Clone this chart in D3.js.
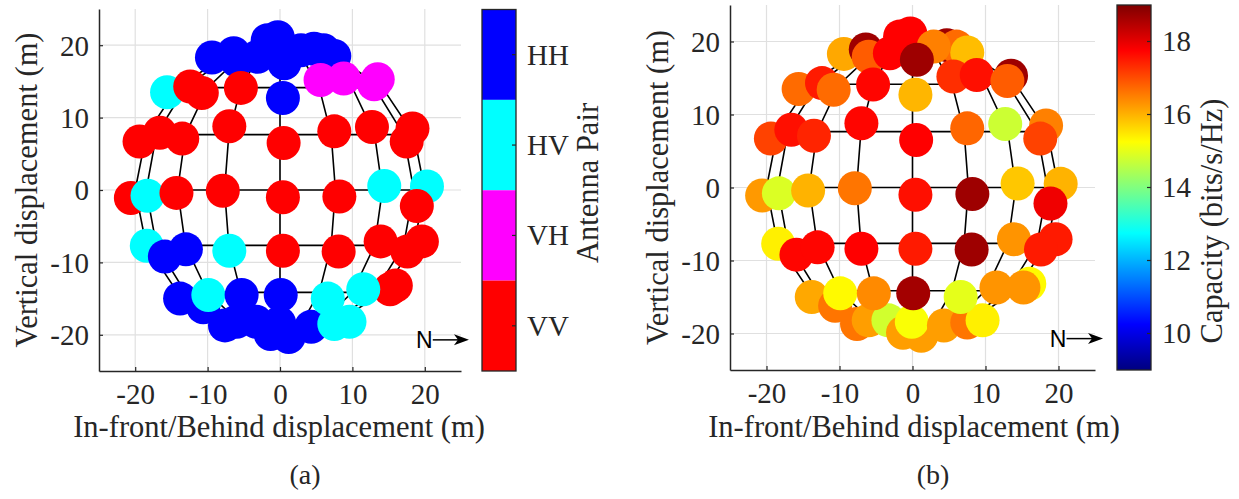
<!DOCTYPE html>
<html><head><meta charset="utf-8">
<script src="https://cdn.jsdelivr.net/npm/d3@7"></script>
<style>
body{margin:0;background:#fff}
svg{display:block}
.serif{font-family:"Liberation Serif","Times New Roman",Times,serif;fill:#262626}
</style>
</head><body>
<svg id="c" width="1239" height="499"></svg>
<script>
// ---------- data ----------
const pairCategories = ["HH", "HV", "VH", "VV"];
const pairColors = ["#0000ff", "#00ffff", "#ff00ff", "#ff0000"];
const xTicks = [-20, -10, 0, 10, 20];
const yTicks = [-20, -10, 0, 10, 20];
const capTicks = [10, 12, 14, 16, 18];
const capRange = [9, 19];
const axisRange = [-25, 25];

// wireframe of the measurement sphere (front hemisphere)
const sphereRadius = 20;
const latitudes = [-90, -67.5, -45, -22.5, 0, 22.5, 45, 67.5, 90];
const longitudes = [-90, -67.5, -45, -22.5, 0, 22.5, 45, 67.5, 90];

// measured positions (m), best antenna pair, capacity (bits/s/Hz)
const posX = [
  // top cluster
  -9.4, -6.4, -6.0, -3.1, -1.7, -0.3, 4.7, 6.0, 7.5, 2.9, 0.6,
  // ring +45
  -15.6, -12.4, -10.8, -5.4, 0.4, 13.5, 5.6, 8.8, 13.0,
  // ring +22.5
  -19.4, -16.6, -13.5, -7.0, 0.5, 7.5, 12.7, 18.3, 17.5,
  // ring 0
  -20.6, -18.3, -14.3, -7.9, 0.4, 8.2, 14.4, 20.3, 18.9,
  // ring -22.5
  -18.4, -15.9, -13.0, -7.0, 0.4, 8.1, 13.9, 19.6, 17.6,
  // bottom cluster
  -7.6, -6.0, -3.3, -1.3, 1.2, -0.1, 4.3, 7.5, 9.6,
  // ring -45
  -13.8, -10.6, -9.9, -5.3, 0.1, 6.6, 16.0, 15.2, 11.5
];
const posY = [
  18.3, 18.9, 17.9, 18.4, 20.7, 21.1, 19.5, 19.3, 18.5, 19.3, 17.5,
  13.5, 14.3, 13.4, 14.1, 12.7, 15.3, 15.2, 15.4, 14.6,
  6.7, 7.9, 7.1, 8.8, 6.5, 8.1, 8.7, 8.5, 6.7,
  -1.1, -0.8, -0.4, -0.1, -1.0, -0.9, 0.55, 0.5, -2.2,
  -7.7, -9.2, -8.2, -8.4, -8.4, -8.5, -7.1, -7.1, -8.5,
  -18.7, -18.2, -18.2, -19.9, -20.3, -18.4, -18.9, -18.5, -18.2,
  -15.0, -16.2, -14.5, -14.5, -14.5, -15.0, -13.2, -13.7, -13.7
];
const antennaPair = [
  "HH","HH","HH","HH","HH","HH","HH","HH","HH","HH","HH",
  "HV","VV","VV","VV","HH","VH","VH","VH","VH",
  "VV","VV","VV","VV","VV","VV","VV","VV","VV",
  "VV","HV","VV","VV","VV","VV","HV","HV","VV",
  "HV","HH","HH","HV","VV","VV","VV","VV","VV",
  "HH","HH","HH","HH","HH","HH","HH","HV","HV",
  "HH","HH","HV","HH","HH","HV","VV","VV","HV"
];
const capacity = [
  16.1, 18.7, 16.85, 17.75, 17.75, 17.75, 18.7, 16.7, 15.9, 16.5, 18.7,
  16.7, 17.5, 16.7, 17.7, 15.97, 18.7, 17.3, 17.6, 16.85,
  17.1, 17.6, 17.4, 17.7, 17.75, 16.75, 14.75, 16.5, 17.1,
  16.25, 14.9, 16.0, 16.6, 17.6, 18.7, 15.8, 16.0, 17.9,
  15.4, 17.7, 17.7, 17.75, 17.5, 18.7, 16.3, 17.5, 17.5,
  16.6, 16.2, 14.8, 16.2, 16.2, 15.2, 16.2, 16.6, 15.4,
  16.1, 16.6, 15.3, 16.4, 18.65, 15.0, 15.3, 16.3, 16.3
];
const points = posX.map((x, i) => ({x, y: posY[i], pair: antennaPair[i], cap: capacity[i]}));

// ---------- helpers ----------
function jet(t) {
  const c = v => Math.max(0, Math.min(1, v));
  const r = c(1.5 - Math.abs(4 * t - 3));
  const g = c(1.5 - Math.abs(4 * t - 2));
  const b = c(1.5 - Math.abs(4 * t - 1));
  return d3.rgb(r * 255, g * 255, b * 255).formatHex();
}
const capNorm = d3.scaleLinear().domain(capRange).range([0, 1]).clamp(true);
const pairColor = d3.scaleOrdinal().domain(pairCategories).range(pairColors);

const svg = d3.select("#c");
const AXC = "#262626";
const R = 17;

function panel(L, colorOf) {
  const g = svg.append("g");
  const x = d3.scaleLinear().domain(axisRange).range([L.x0, L.x1]);
  const y = d3.scaleLinear().domain(axisRange).range([L.y1, L.y0]);

  // grid
  g.append("g").selectAll("line").data(xTicks).join("line")
    .attr("x1", d => x(d)).attr("x2", d => x(d)).attr("y1", L.y0).attr("y2", L.y1)
    .attr("stroke", "#e0e0e0").attr("stroke-width", 1.2);
  g.append("g").selectAll("line").data(yTicks).join("line")
    .attr("y1", d => y(d)).attr("y2", d => y(d)).attr("x1", L.x0).attr("x2", L.x1)
    .attr("stroke", "#e0e0e0").attr("stroke-width", 1.2);

  // wireframe
  const rad = Math.PI / 180;
  const wire = g.append("g").attr("fill", "none").attr("stroke", "#000").attr("stroke-width", 1.6);
  latitudes.filter(a => Math.abs(a) < 90).forEach(lat => {
    const yy = sphereRadius * Math.sin(lat * rad), w = sphereRadius * Math.cos(lat * rad);
    wire.append("line").attr("x1", x(-w)).attr("x2", x(w)).attr("y1", y(yy)).attr("y2", y(yy));
  });
  const line = d3.line().x(d => x(d[0])).y(d => y(d[1]));
  longitudes.forEach(lon => {
    const pts = latitudes.map(lat => [sphereRadius * Math.cos(lat * rad) * Math.sin(lon * rad), sphereRadius * Math.sin(lat * rad)]);
    wire.append("path").attr("d", line(pts));
  });

  // points
  g.append("g").selectAll("circle").data(points).join("circle")
    .attr("cx", d => x(d.x)).attr("cy", d => y(d.y)).attr("r", R)
    .attr("fill", colorOf);

  // axes
  const ax = g.append("g").attr("transform", `translate(0,${L.y1})`)
    .call(d3.axisBottom(x).tickValues(xTicks).tickSizeInner(-4).tickSizeOuter(0).tickPadding(12).tickFormat(d3.format("d")));
  const ay = g.append("g").attr("transform", `translate(${L.x0},0)`)
    .call(d3.axisLeft(y).tickValues(yTicks).tickSizeInner(-4).tickSizeOuter(0).tickPadding(10).tickFormat(d3.format("d")));
  [ax, ay].forEach(a => {
    a.select(".domain").attr("stroke", AXC).attr("stroke-width", 1.5);
    a.selectAll(".tick line").attr("stroke", AXC).attr("stroke-width", 1.2);
    a.selectAll(".tick text").attr("class", "serif").attr("font-size", 29).attr("fill", AXC)
      .text(d => d < 0 ? "-" + Math.abs(d) : d);
  });
  ax.selectAll(".tick text").attr("dy", "0.71em");
  ay.selectAll(".tick text").attr("dy", "0.34em");

  // labels
  g.append("text").attr("class", "serif").attr("font-size", 30.5)
    .attr("text-anchor", "middle").attr("x", L.xlabX).attr("y", 437)
    .text("In-front/Behind displacement (m)");
  g.append("text").attr("class", "serif").attr("font-size", 30.5)
    .attr("text-anchor", "middle")
    .attr("transform", `translate(${L.x0 - 62},${(L.y0 + L.y1) / 2}) rotate(-90)`)
    .text("Vertical displacement (m)");
  g.append("text").attr("class", "serif").attr("font-size", 28)
    .attr("text-anchor", "middle").attr("x", L.capX).attr("y", 484).text(L.cap);

  // N arrow
  const ya = y(-20.7);
  g.append("text").attr("font-family", "'Liberation Sans',Arial,Helvetica,sans-serif")
    .attr("font-size", 23).attr("x", x(18.8)).attr("y", ya + 8.3).attr("fill", "#000").text("N");
  const xs = x(21.1), xt = x(26.1);
  g.append("line").attr("x1", xs).attr("x2", xt - 8).attr("y1", ya).attr("y2", ya)
    .attr("stroke", "#000").attr("stroke-width", 1.5);
  g.append("path").attr("d", `M${xt},${ya} L${xt - 15},${ya - 5.5} L${xt - 11},${ya} L${xt - 15},${ya + 5.5} Z`)
    .attr("fill", "#000");
  return {x, y};
}

// ---------- panel (a) ----------
panel({x0: 99, x1: 461, y0: 9, y1: 371, xlabX: 279, capX: 305, cap: "(a)"}, d => pairColor(d.pair));

// colorbar (a)
{
  const cx0 = 482, cx1 = 516, cy0 = 9.5, cy1 = 371;
  const band = d3.scaleBand().domain(pairCategories).range([cy0, cy1]);
  const g = svg.append("g");
  g.selectAll("rect").data(pairCategories).join("rect")
    .attr("x", cx0).attr("width", cx1 - cx0).attr("y", d => band(d)).attr("height", band.bandwidth())
    .attr("fill", d => pairColor(d));
  g.append("rect").attr("x", cx0).attr("y", cy0).attr("width", cx1 - cx0).attr("height", cy1 - cy0)
    .attr("fill", "none").attr("stroke", AXC).attr("stroke-width", 1.3);
  g.selectAll("line.t").data(pairCategories).join("line")
    .attr("x1", cx1 - 4).attr("x2", cx1).attr("y1", d => band(d) + band.bandwidth() / 2).attr("y2", d => band(d) + band.bandwidth() / 2)
    .attr("stroke", AXC).attr("stroke-width", 1.2);
  g.selectAll("text.l").data(pairCategories).join("text").attr("class", "serif")
    .attr("font-size", 29).attr("x", cx1 + 11).attr("y", d => band(d) + band.bandwidth() / 2).attr("dy", "0.34em")
    .text(d => d);
  g.append("text").attr("class", "serif").attr("font-size", 30.5).attr("text-anchor", "middle")
    .attr("transform", `translate(598,183) rotate(-90)`).text("Antenna Pair");
}

// ---------- panel (b) ----------
panel({x0: 730, x1: 1095, y0: 5, y1: 370, xlabX: 914, capX: 933, cap: "(b)"}, d => jet(capNorm(d.cap)));

// colorbar (b)
{
  const cx0 = 1117, cx1 = 1151, cy0 = 5, cy1 = 370;
  const cy = d3.scaleLinear().domain(capRange).range([cy1, cy0]);
  const defs = svg.append("defs");
  const grad = defs.append("linearGradient").attr("id", "jetg").attr("x1", 0).attr("x2", 0).attr("y1", 1).attr("y2", 0);
  d3.range(0, 1.0001, 1 / 64).forEach(t => grad.append("stop").attr("offset", t).attr("stop-color", jet(t)));
  const g = svg.append("g");
  g.append("rect").attr("x", cx0).attr("y", cy0).attr("width", cx1 - cx0).attr("height", cy1 - cy0)
    .attr("fill", "url(#jetg)").attr("stroke", AXC).attr("stroke-width", 1.3);
  g.selectAll("line").data(capTicks).join("line")
    .attr("x1", cx1 - 4).attr("x2", cx1).attr("y1", d => cy(d)).attr("y2", d => cy(d))
    .attr("stroke", AXC).attr("stroke-width", 1.2);
  g.selectAll("text.l").data(capTicks).join("text").attr("class", "serif")
    .attr("font-size", 29).attr("x", cx1 + 11).attr("y", d => cy(d)).attr("dy", "0.34em").text(d => d);
  g.append("text").attr("class", "serif").attr("font-size", 30.5).attr("text-anchor", "middle")
    .attr("transform", `translate(1222,221) rotate(-90)`).text("Capacity (bits/s/Hz)");
}
</script>
</body></html>
